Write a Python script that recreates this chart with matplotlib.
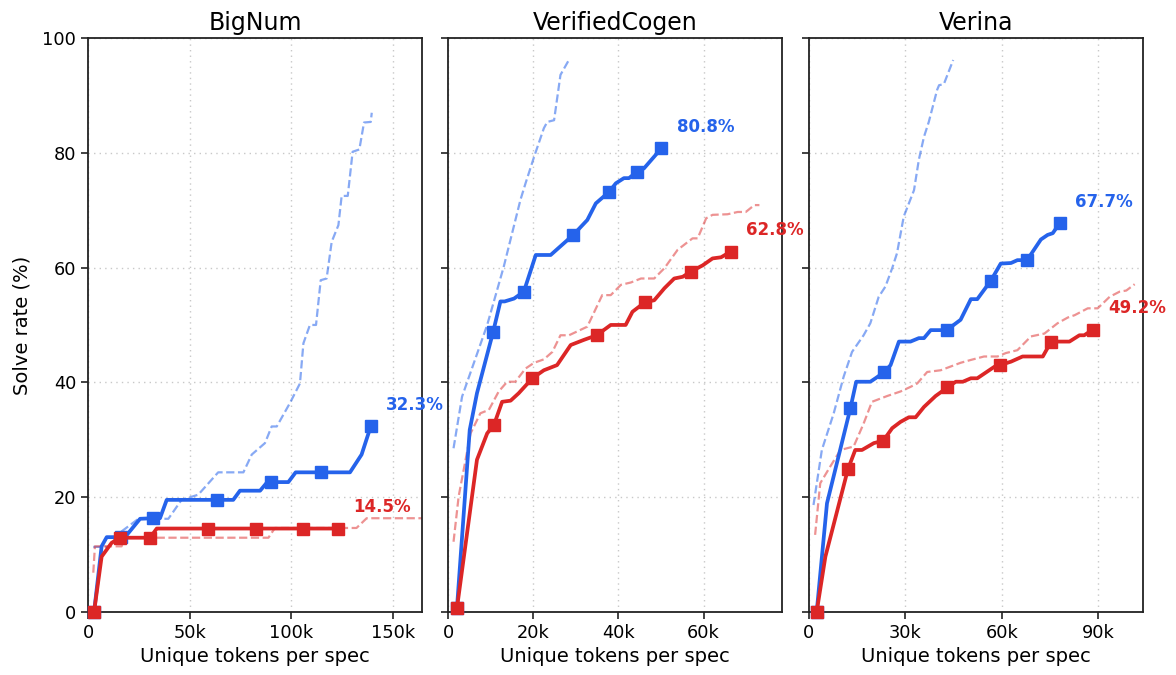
import matplotlib
matplotlib.use("Agg")
import matplotlib.pyplot as plt
from matplotlib.ticker import FuncFormatter

# ---------------- data (x in thousands of tokens, y in %) ----------------
titles = ["BigNum", "VerifiedCogen", "Verina"]

# BigNum
bn_blue_x = [3.0, 6.7, 9.2, 18.2, 25.6, 32.1, 35.4, 38.7, 63.3, 71.4, 74.7, 84.6, 87.9, 90.0, 98.5, 102.1, 114.6, 128.8, 134.5, 139.0]
bn_blue_y = [0.0, 11.4, 13.0, 13.0, 16.2, 16.3, 16.3, 19.5, 19.5, 19.5, 21.1, 21.1, 22.5, 22.6, 22.6, 24.3, 24.3, 24.3, 27.4, 32.3]
bn_blue_mx = [3.0, 16.0, 32.1, 63.3, 90.0, 114.6, 139.0]
bn_blue_my = [0.0, 13.0, 16.3, 19.5, 22.6, 24.3, 32.3]
bn_red_x = [3.0, 6.7, 11.6, 15.7, 30.5, 33.8, 58.8, 82.6, 105.9, 122.7]
bn_red_y = [0.0, 9.6, 12.0, 12.9, 12.9, 14.5, 14.5, 14.5, 14.5, 14.5]
bn_red_mx = [3.0, 15.7, 30.5, 58.8, 82.6, 105.9, 122.7]
bn_red_my = [0.0, 12.9, 12.9, 14.5, 14.5, 14.5, 14.5]
bn_blue_dash_x = [2.6, 10.0, 16.5, 24.8, 39.5, 46.0, 54.2, 64.0, 76.4, 80.5, 87.0, 90.3, 92.8, 99.3, 104.2, 105.9, 109.1, 112.1, 114.4, 117.3, 119.8, 123.1, 124.7, 127.7, 130.1, 133.4, 135.7, 139.0, 139.5]
bn_blue_dash_y = [11.3, 11.3, 14.0, 16.2, 16.2, 19.5, 20.4, 24.3, 24.3, 27.4, 29.4, 32.3, 32.3, 36.4, 39.8, 46.8, 50.0, 50.0, 57.8, 58.1, 64.5, 67.4, 72.5, 72.5, 80.2, 80.6, 85.3, 85.4, 87.0]
bn_red_dash_x = [2.6, 3.4, 16.5, 18.0, 88.7, 91.9, 132.0, 137.0, 170.0]
bn_red_dash_y = [6.8, 11.4, 11.4, 12.9, 12.9, 14.6, 14.6, 16.3, 16.3]

# VerifiedCogen
vc_blue_x = [2.1, 5.1, 6.8, 10.6, 12.3, 13.3, 15.5, 17.8, 20.6, 24.1, 29.4, 32.7, 34.7, 37.8, 39.4, 41.3, 42.5, 44.3, 46.0, 50.1]
vc_blue_y = [0.6, 31.7, 38.1, 48.8, 54.1, 54.1, 54.6, 55.8, 62.2, 62.2, 65.7, 68.3, 71.2, 73.2, 74.7, 75.6, 75.6, 76.7, 77.3, 80.8]
vc_blue_mx = [2.1, 10.6, 17.8, 29.4, 37.8, 44.3, 50.1]
vc_blue_my = [0.6, 48.8, 55.8, 65.7, 73.2, 76.7, 80.8]
vc_red_x = [2.1, 6.8, 9.2, 10.8, 12.7, 14.7, 16.6, 19.8, 22.5, 25.6, 28.8, 31.9, 34.9, 38.2, 41.7, 43.3, 46.3, 48.4, 50.8, 53.1, 55.1, 57.0, 59.8, 62.1, 64.1, 66.4]
vc_red_y = [0.6, 26.5, 31.1, 32.6, 36.6, 36.8, 38.1, 40.7, 42.1, 43.0, 46.5, 47.4, 48.2, 50.0, 50.0, 52.3, 54.0, 54.3, 56.4, 58.1, 58.4, 59.3, 60.4, 61.6, 61.8, 62.8]
vc_red_mx = [2.1, 10.8, 19.8, 34.9, 46.3, 57.0, 66.4]
vc_red_my = [0.6, 32.6, 40.7, 48.2, 54.0, 59.3, 62.8]
vc_blue_dash_x = [1.3, 3.3, 9.2, 13.1, 17.0, 18.2, 20.2, 22.5, 23.3, 24.9, 26.4, 28.6]
vc_blue_dash_y = [28.5, 37.5, 50.0, 60.2, 71.8, 74.7, 79.3, 84.3, 85.4, 85.7, 93.6, 96.5]
vc_red_dash_x = [1.3, 2.5, 5.3, 7.6, 9.6, 11.9, 13.9, 15.8, 18.2, 20.2, 22.5, 24.5, 26.4, 28.4, 32.7, 36.2, 38.2, 40.6, 42.9, 45.3, 48.4, 50.8, 53.9, 57.4, 58.6, 60.6, 62.1, 65.6, 68.0, 69.9, 71.9, 73.1]
vc_red_dash_y = [12.2, 20.1, 31.1, 34.6, 35.2, 38.4, 40.1, 40.1, 42.4, 43.4, 44.0, 45.3, 48.2, 48.2, 49.7, 55.2, 55.2, 57.0, 57.4, 58.1, 58.1, 59.9, 63.1, 65.1, 65.1, 68.6, 69.2, 69.3, 69.7, 69.7, 70.9, 70.9]

# Verina
ve_blue_x = [2.4, 5.6, 12.9, 14.7, 19.1, 20.7, 23.5, 25.4, 28.0, 31.6, 34.2, 35.8, 37.9, 42.9, 47.2, 50.4, 52.4, 56.6, 59.7, 62.9, 64.9, 67.9, 72.2, 74.3, 75.9, 78.0]
ve_blue_y = [0.0, 18.9, 35.5, 40.1, 40.1, 40.7, 41.8, 43.0, 47.1, 47.1, 47.7, 47.7, 49.1, 49.1, 50.9, 54.5, 54.5, 57.7, 60.7, 60.8, 61.3, 61.3, 64.9, 65.7, 66.0, 67.7]
ve_blue_mx = [2.4, 12.9, 23.5, 42.9, 56.6, 67.9, 78.0]
ve_blue_my = [0.0, 35.5, 41.8, 49.1, 57.7, 61.3, 67.7]
ve_red_x = [2.4, 5.1, 12.1, 14.4, 16.5, 20.2, 23.1, 25.9, 28.5, 31.1, 33.2, 35.8, 39.4, 43.1, 45.7, 47.9, 50.4, 52.4, 57.7, 59.5, 62.9, 66.5, 72.8, 75.4, 81.1, 84.2, 85.7, 88.4]
ve_red_y = [0.0, 9.6, 24.8, 28.2, 28.2, 29.4, 29.8, 32.0, 33.1, 33.9, 33.9, 35.7, 37.6, 39.1, 40.1, 40.1, 40.7, 40.7, 42.7, 43.0, 43.6, 44.5, 44.5, 47.1, 47.1, 48.2, 48.2, 49.2]
ve_red_mx = [2.4, 12.1, 23.1, 43.1, 59.5, 75.4, 88.4]
ve_red_my = [0.0, 24.8, 29.8, 39.1, 43.0, 47.1, 49.2]
ve_blue_dash_x = [1.4, 4.0, 7.7, 10.8, 13.4, 17.0, 19.1, 21.7, 23.8, 25.9, 27.4, 29.5, 32.7, 34.2, 35.8, 37.3, 39.9, 40.5, 42.0, 43.1, 44.9]
ve_blue_dash_y = [18.6, 28.2, 34.6, 41.0, 45.3, 48.2, 50.3, 54.9, 56.7, 59.9, 62.5, 68.9, 73.5, 78.8, 82.8, 85.4, 91.0, 91.8, 92.0, 93.6, 96.2]
ve_red_dash_x = [1.9, 3.5, 6.6, 9.8, 13.9, 17.0, 19.6, 24.3, 28.5, 31.6, 33.7, 36.8, 41.0, 47.2, 50.4, 54.5, 58.7, 61.3, 64.9, 69.1, 73.3, 77.4, 80.6, 82.7, 86.8, 89.9, 93.6, 96.7, 98.8, 101.4]
ve_red_dash_y = [13.4, 22.4, 25.3, 28.2, 28.8, 32.8, 36.6, 37.6, 38.4, 39.2, 39.8, 41.8, 42.1, 43.4, 43.9, 44.5, 44.5, 45.1, 45.6, 48.0, 48.5, 50.3, 51.3, 51.7, 52.9, 52.9, 54.9, 55.8, 56.0, 57.1]

x_ticks = [[0, 50, 100, 150], [0, 20, 40, 60], [0, 30, 60, 90]]
x_limits = [(0, 164.2), (0, 78.4), (0, 104.0)]
y_ticks = [0, 20, 40, 60, 80, 100]

panels = [
    (bn_blue_x, bn_blue_y, bn_blue_mx, bn_blue_my, bn_red_x, bn_red_y, bn_red_mx, bn_red_my,
     bn_blue_dash_x, bn_blue_dash_y, bn_red_dash_x, bn_red_dash_y),
    (vc_blue_x, vc_blue_y, vc_blue_mx, vc_blue_my, vc_red_x, vc_red_y, vc_red_mx, vc_red_my,
     vc_blue_dash_x, vc_blue_dash_y, vc_red_dash_x, vc_red_dash_y),
    (ve_blue_x, ve_blue_y, ve_blue_mx, ve_blue_my, ve_red_x, ve_red_y, ve_red_mx, ve_red_my,
     ve_blue_dash_x, ve_blue_dash_y, ve_red_dash_x, ve_red_dash_y),
]

BLUE = "#2563EB"
RED = "#DC2626"

plt.rcParams['font.family'] = ['DejaVu Sans']
fig = plt.figure(figsize=(11.76, 6.75), dpi=100)
lefts = [88 / 1176, 448 / 1176, 809 / 1176]
w = 334 / 1176
bottom = 1 - 611.7 / 675
h = (611.7 - 38.2) / 675

kfmt = FuncFormatter(lambda v, p: "0" if v == 0 else f"{int(v)}k")

for i, (l, data) in enumerate(zip(lefts, panels)):
    ax = fig.add_axes([l, bottom, w, h])
    bx, by, bmx, bmy, rx, ry, rmx, rmy, bdx, bdy, rdx, rdy = data
    ax.plot(bdx, bdy, color=BLUE, alpha=0.55, lw=1.6, ls='--', zorder=2)
    ax.plot(rdx, rdy, color=RED, alpha=0.5, lw=1.6, ls='--', zorder=2)
    ax.plot(bx, by, color=BLUE, lw=2.7, zorder=3, solid_joinstyle='round')
    ax.plot(rx, ry, color=RED, lw=2.7, zorder=4, solid_joinstyle='round')
    ax.plot(bmx, bmy, ls='none', marker='s', ms=9, color=BLUE, zorder=3, clip_on=False)
    ax.plot(rmx, rmy, ls='none', marker='s', ms=9, color=RED, zorder=4, clip_on=False)
    ax.annotate(f"{bmy[-1]:.1f}%", (bmx[-1], bmy[-1]), xytext=(11, 9), textcoords='offset points',
                color=BLUE, fontsize=12, fontweight='bold', ha='left', va='bottom',
                annotation_clip=False, zorder=6)
    ax.annotate(f"{rmy[-1]:.1f}%", (rmx[-1], rmy[-1]), xytext=(11, 9), textcoords='offset points',
                color=RED, fontsize=12, fontweight='bold', ha='left', va='bottom',
                annotation_clip=False, zorder=6)
    ax.set_xlim(*x_limits[i])
    ax.set_ylim(0, 100)
    ax.set_xticks(x_ticks[i])
    ax.xaxis.set_major_formatter(kfmt)
    ax.set_yticks(y_ticks)
    ax.grid(True, ls=(0, (1, 3)), color='#c8c8c8', lw=1.0)
    ax.set_axisbelow(True)
    for s in ax.spines.values():
        s.set_color('#222222')
        s.set_linewidth(1.3)
    ax.tick_params(labelsize=12.8, length=5, width=1.2, colors='#222222', labelcolor='black')
    if i > 0:
        ax.tick_params(labelleft=False)
    else:
        ax.set_ylabel("Solve rate (%)", fontsize=14, labelpad=8)
    ax.set_xlabel("Unique tokens per spec", fontsize=14)
    ax.set_title(titles[i], fontsize=17, pad=6)

fig.savefig("out.png", dpi=100)
